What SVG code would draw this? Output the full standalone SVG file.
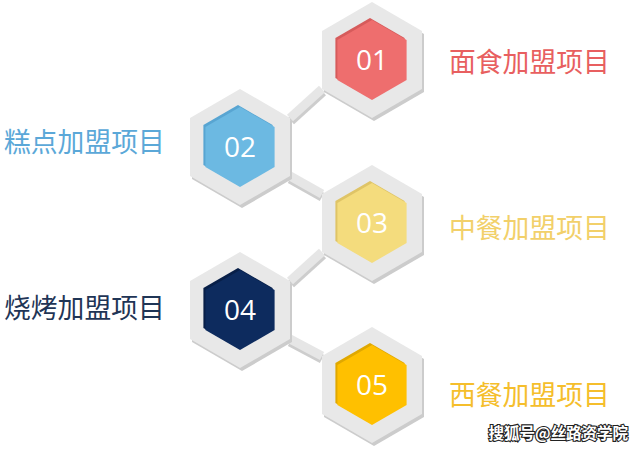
<svg xmlns="http://www.w3.org/2000/svg" width="642" height="451" viewBox="0 0 642 451">
<style>
.lbl{font-family:"Noto Sans CJK SC","Noto Sans",sans-serif;font-size:26.8px;}
.num{font-family:"Open Sans","Noto Sans",sans-serif;font-size:28px;fill:#ffffff;text-anchor:middle;}
.conn{stroke:#e6e6e6;stroke-width:9;fill:none;stroke-linecap:butt;}
.connsh{stroke:#cdcdcd;stroke-width:9;fill:none;}
.wm{font-family:"Noto Sans CJK SC",sans-serif;font-size:15.5px;font-weight:bold;fill:#ffffff;stroke:#222222;stroke-width:2.2px;paint-order:stroke;text-anchor:end;}
</style>
<defs>
<polygon id="outer" points="0,-58 50,-29 50,29 0,58 -50,29 -50,-29"/>
<polygon id="inner" points="0,-40 34.6,-20 34.6,20 0,40 -34.6,20 -34.6,-20"/>
</defs>
<rect width="642" height="451" fill="#ffffff"/>
<g id="connectors">
<line class="connsh" x1="291" y1="121" x2="323" y2="92"/>
<line class="conn" x1="290" y1="118" x2="322" y2="89"/>
<line class="connsh" x1="290" y1="179" x2="322" y2="197"/>
<line class="conn" x1="290" y1="176" x2="322" y2="194"/>
<line class="connsh" x1="291" y1="284" x2="323" y2="255"/>
<line class="conn" x1="290" y1="281" x2="322" y2="252"/>
<line class="connsh" x1="290" y1="342" x2="322" y2="359"/>
<line class="conn" x1="290" y1="339" x2="322" y2="356"/>
</g>
<g id="node01">
<use href="#outer" transform="translate(374,63)" fill="#cccccc"/>
<use href="#outer" transform="translate(372,60)" fill="#e8e8e8"/>
<use href="#inner" transform="translate(370,58)" fill="#d65b5b"/>
<use href="#inner" transform="translate(372,60)" fill="#ee6e6e"/>
<text class="num" x="372" y="70">01</text>
<text class="lbl" x="449" y="72" fill="#e85f60">面食加盟项目</text>
</g>
<g id="node02">
<use href="#outer" transform="translate(242,150)" fill="#cccccc"/>
<use href="#outer" transform="translate(240,147)" fill="#e8e8e8"/>
<use href="#inner" transform="translate(238,145)" fill="#58a5d2"/>
<use href="#inner" transform="translate(240,147)" fill="#6cb9e2"/>
<text class="num" x="240" y="157">02</text>
<text class="lbl" x="4" y="152" fill="#5ba8d8">糕点加盟项目</text>
</g>
<g id="node03">
<use href="#outer" transform="translate(374,226)" fill="#cccccc"/>
<use href="#outer" transform="translate(372,223)" fill="#e8e8e8"/>
<use href="#inner" transform="translate(370,221)" fill="#dfc466"/>
<use href="#inner" transform="translate(372,223)" fill="#f4dc7d"/>
<text class="num" x="372" y="233">03</text>
<text class="lbl" x="449" y="238" fill="#f2d06a">中餐加盟项目</text>
</g>
<g id="node04">
<use href="#outer" transform="translate(242,313)" fill="#cccccc"/>
<use href="#outer" transform="translate(240,310)" fill="#e8e8e8"/>
<use href="#inner" transform="translate(238,308)" fill="#081f48"/>
<use href="#inner" transform="translate(240,310)" fill="#0d2b5e"/>
<text class="num" x="240" y="320">04</text>
<text class="lbl" x="4" y="318" fill="#1f3556">烧烤加盟项目</text>
</g>
<g id="node05">
<use href="#outer" transform="translate(374,388)" fill="#cccccc"/>
<use href="#outer" transform="translate(372,385)" fill="#e8e8e8"/>
<use href="#inner" transform="translate(370,383)" fill="#e0a800"/>
<use href="#inner" transform="translate(372,385)" fill="#ffc000"/>
<text class="num" x="372" y="395">05</text>
<text class="lbl" x="449" y="405" fill="#f5be2c">西餐加盟项目</text>
</g>
<text class="wm" x="628" y="439">搜狐号@丝路资学院</text>
</svg>
